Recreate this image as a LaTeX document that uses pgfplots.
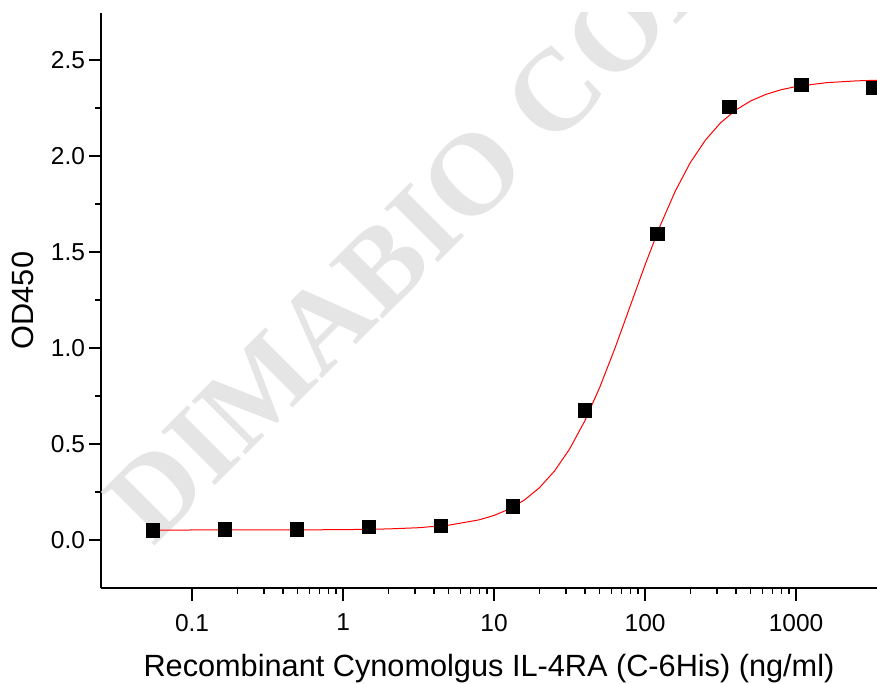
\documentclass[border=0pt]{standalone}
\usepackage{pgfplots}
\pgfplotsset{compat=1.18}
\usepackage{fontspec}
\setmainfont{Liberation Sans}
\newfontfamily\wmfont{Liberation Serif}
\begin{document}
\begin{tikzpicture}
\begin{axis}[
  name=ax,
  width=776pt, height=575pt, scale only axis,
  xmode=log, xmin=0.02494, xmax=3436, ymin=-0.25, ymax=2.745,
  axis lines*=left, tick align=outside,
  major tick length=12.5pt, minor tick length=6pt,
  every tick/.style={black, line width=1.5pt},
  axis line style={line width=2pt},
  ytick={0,0.5,1,1.5,2,2.5}, minor y tick num=1,
  xtick={0.1,1,10,100,1000}, xticklabels={0.1,1,10,100,1000},
  yticklabel style={/pgf/number format/.cd, fixed, fixed zerofill, precision=1},
  xticklabel style={yshift=-10pt},
  /pgf/number format/assume math mode=true,
  tick label style={font=\fontsize{24.5}{30}\selectfont},
  label style={font=\fontsize{30.7}{36}\selectfont},
  xlabel={Recombinant Cynomolgus IL-4RA (C-6His) (ng/ml)},
  ylabel={OD450},
  xlabel style={yshift=-16pt},
  ylabel style={yshift=10pt},
]
\node[rotate=45, anchor=base west, inner sep=0pt, text=black!10,
  font=\wmfont\bfseries\fontsize{116}{116}\selectfont] at (axis cs:0.0552,-0.042) {DIMABIO CORP};
\addplot[red, line width=1pt, no marks] coordinates {
(0.0549,0.0520) (0.3162,0.0523) (1,0.0538) (1.995,0.0577) (3.162,0.064) (5.012,0.0772)
(7.943,0.1048) (10,0.128) (12.59,0.161) (15.85,0.2077) (19.95,0.2718) (25.12,0.359)
(31.62,0.4735) (39.81,0.619) (50.12,0.7954) (63.10,0.9976) (79.43,1.215) (100,1.433)
(125.9,1.637) (158.5,1.817) (199.5,1.966) (251.2,2.083) (316.2,2.173) (398.1,2.239)
(501.2,2.287) (631.0,2.321) (794.3,2.345) (1000,2.362) (1585,2.382) (2512,2.3915) (3548,2.395)
};
\addplot[only marks, mark=square*, mark size=6.7pt, mark options={fill=black, draw=black}] coordinates {
(0.0549,0.052) (0.165,0.057) (0.494,0.056) (1.48,0.068) (4.44,0.073) (13.3,0.177)
(40,0.677) (120,1.594) (360,2.257) (1080,2.373) (3240,2.356)
};
\end{axis}
\pgfresetboundingbox
\path[use as bounding box] ([xshift=-101pt,yshift=-96pt]ax.south west) rectangle ([yshift=13pt]ax.north east);
\end{tikzpicture}
\end{document}
